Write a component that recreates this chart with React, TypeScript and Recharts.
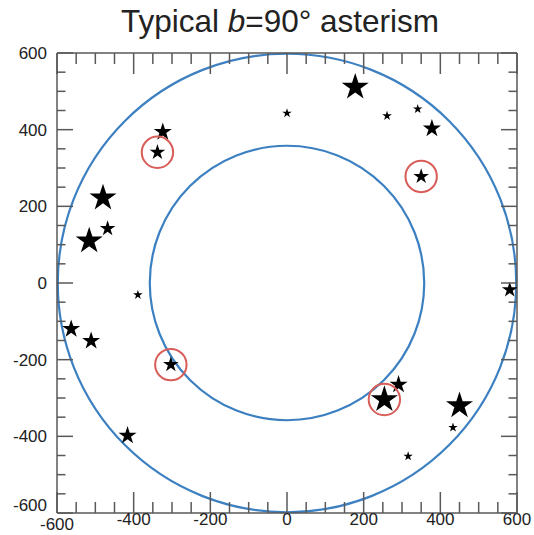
import React from 'react';
import * as R from 'recharts';

const { ScatterChart, Scatter, XAxis, YAxis } = R as any;

// ---------- data ----------
const brightStars = [
  { x: 178, y: 511 },
  { x: 254, y: -304 },
  { x: 450, y: -320 },
  { x: -480, y: 222 },
  { x: -516, y: 110 },
];
const mediumStars = [
  { x: 378, y: 403 },
  { x: 291, y: -265 },
  { x: -324, y: 394 },
  { x: -563, y: -120 },
  { x: -511, y: -151 },
  { x: -416, y: -398 },
];
const dimStars = [
  { x: 350, y: 278 },
  { x: -338, y: 341 },
  { x: -468, y: 142 },
  { x: -303, y: -213 },
  { x: 581, y: -18 },
];
const faintStars = [
  { x: 0, y: 443 },
  { x: 261, y: 436 },
  { x: 341, y: 454 },
  { x: 433, y: -377 },
  { x: 316, y: -452 },
  { x: -389, y: -31 },
];
const circledStars = [
  { x: 350, y: 278 },
  { x: 254, y: -304 },
  { x: -338, y: 341 },
  { x: -303, y: -213 },
];
const ringCenter = { x: 0, y: 0 };
const ringRadii = [598, 358];
const axisDomain = [-600, 600];
const axisTicks = [
  -600, -550, -500, -450, -400, -350, -300, -250, -200, -150, -100, -50, 0,
  50, 100, 150, 200, 250, 300, 350, 400, 450, 500, 550, 600,
];
const labelTicks = [-600, -400, -200, 0, 200, 400, 600];

// ---------- layout / style ----------
const W = 534;
const H = 535;
const MARGIN = { top: 52, right: 16, bottom: 0, left: 8 };
const AXIS_COLOR = '#595959';
const LABEL_COLOR = '#222';
const RING_COLOR = '#3d80c1';
const MARK_COLOR = '#d85c57';
const FONT = '"Liberation Sans", Arial, Helvetica, sans-serif';
const TICK_FS = 17;

const isLabel = (v: number) => labelTicks.includes(v);

const starPath = (cx: number, cy: number, r: number) => {
  const inner = r * 0.382;
  const pts: string[] = [];
  for (let i = 0; i < 10; i++) {
    const rad = i % 2 === 0 ? r : inner;
    const a = -Math.PI / 2 + (i * Math.PI) / 5;
    pts.push(`${(cx + rad * Math.cos(a)).toFixed(2)},${(cy + rad * Math.sin(a)).toFixed(2)}`);
  }
  return `M${pts.join('L')}Z`;
};

const makeStar = (r: number) => (p: any) => (
  <path d={starPath(p.cx, p.cy, r)} fill="#000" stroke="none" />
);

const markCircle = (p: any) => (
  <circle cx={p.cx} cy={p.cy} r={15.7} fill="none" stroke={MARK_COLOR} strokeWidth={2} />
);

const BottomTick = (p: any) => {
  const v = p.payload.value;
  const major = isLabel(v);
  return (
    <g>
      <line x1={p.x} x2={p.x} y1={p.y} y2={p.y - (major ? 21 : 11)} stroke={AXIS_COLOR} strokeWidth={1.5} />
      {major && (
        <text x={p.x} y={p.y + (v === -600 ? 17 : 12)} textAnchor="middle" fontSize={TICK_FS} fill={LABEL_COLOR} fontFamily={FONT}>
          {v}
        </text>
      )}
    </g>
  );
};

const TopTick = (p: any) => {
  const v = p.payload.value;
  const major = isLabel(v);
  return <line x1={p.x} x2={p.x} y1={p.y} y2={p.y + (major ? 21 : 11)} stroke={AXIS_COLOR} strokeWidth={1.5} />;
};

const LeftTick = (p: any) => {
  const v = p.payload.value;
  const major = isLabel(v);
  return (
    <g>
      <line x1={p.x} x2={p.x + (major ? 16 : 8.5)} y1={p.y} y2={p.y} stroke={AXIS_COLOR} strokeWidth={1.5} />
      {major && (
        <text x={p.x - 10} y={p.y + (v === -600 ? -2 : 6)} textAnchor="end" fontSize={TICK_FS} fill={LABEL_COLOR} fontFamily={FONT}>
          {v}
        </text>
      )}
    </g>
  );
};

const RightTick = (p: any) => {
  const v = p.payload.value;
  const major = isLabel(v);
  return <line x1={p.x} x2={p.x - (major ? 16 : 8.5)} y1={p.y} y2={p.y} stroke={AXIS_COLOR} strokeWidth={1.5} />;
};

const usePlotAreaHook: any = (R as any).usePlotArea;

const fallbackArea = {
  x: MARGIN.left + 49,
  y: MARGIN.top + 1,
  width: W - MARGIN.left - 49 - MARGIN.right - 1,
  height: H - MARGIN.top - 1 - 22 - MARGIN.bottom,
};

const Rings = () => {
  const plot = usePlotAreaHook ? usePlotAreaHook() : undefined;
  const area = plot ?? fallbackArea;
  const span = axisDomain[1] - axisDomain[0];
  const sx = area.width / span;
  const sy = area.height / span;
  const cx = area.x + (ringCenter.x - axisDomain[0]) * sx;
  const cy = area.y + (axisDomain[1] - ringCenter.y) * sy;
  return (
    <g>
      {ringRadii.map((r) => (
        <ellipse key={r} cx={cx} cy={cy} rx={r * sx} ry={r * sy} fill="none" stroke={RING_COLOR} strokeWidth={2.2} />
      ))}
    </g>
  );
};

const Title = () => (
  <text x={280} y={32} textAnchor="middle" fontSize={31.5} fill={LABEL_COLOR} fontFamily={FONT}>
    Typical <tspan fontStyle="italic">b</tspan>=90° asterism
  </text>
);

export default function App() {
  return (
    <>
      <style>{'html,body{margin:0;padding:0;overflow:hidden;}'}</style>
      <ScatterChart width={W} height={H} margin={MARGIN}>
        <XAxis
          type="number"
          dataKey="x"
          xAxisId="b"
          domain={axisDomain}
          ticks={axisTicks}
          interval={0}
          allowDataOverflow
          height={22}
          tickSize={0}
          tickMargin={0}
          tickLine={false}
          axisLine={{ stroke: AXIS_COLOR, strokeWidth: 1.5 }}
          tick={<BottomTick />}
        />
        <XAxis
          type="number"
          dataKey="x"
          xAxisId="t"
          orientation="top"
          domain={axisDomain}
          ticks={axisTicks}
          interval={0}
          allowDataOverflow
          height={1}
          tickSize={0}
          tickMargin={0}
          tickLine={false}
          axisLine={{ stroke: AXIS_COLOR, strokeWidth: 1.5 }}
          tick={<TopTick />}
        />
        <YAxis
          type="number"
          dataKey="y"
          yAxisId="l"
          domain={axisDomain}
          ticks={axisTicks}
          interval={0}
          allowDataOverflow
          width={49}
          tickSize={0}
          tickMargin={0}
          tickLine={false}
          axisLine={{ stroke: AXIS_COLOR, strokeWidth: 1.5 }}
          tick={<LeftTick />}
        />
        <YAxis
          type="number"
          dataKey="y"
          yAxisId="r"
          orientation="right"
          domain={axisDomain}
          ticks={axisTicks}
          interval={0}
          allowDataOverflow
          width={1}
          tickSize={0}
          tickMargin={0}
          tickLine={false}
          axisLine={{ stroke: AXIS_COLOR, strokeWidth: 1.5 }}
          tick={<RightTick />}
        />
        <Title />
        <Rings />
        <Scatter data={brightStars} xAxisId="b" yAxisId="l" shape={makeStar(14.2)} isAnimationActive={false} />
        <Scatter data={mediumStars} xAxisId="b" yAxisId="l" shape={makeStar(9.5)} isAnimationActive={false} />
        <Scatter data={dimStars} xAxisId="b" yAxisId="l" shape={makeStar(8.2)} isAnimationActive={false} />
        <Scatter data={faintStars} xAxisId="b" yAxisId="l" shape={makeStar(5)} isAnimationActive={false} />
        <Scatter data={circledStars} xAxisId="t" yAxisId="r" shape={markCircle} isAnimationActive={false} />
      </ScatterChart>
    </>
  );
}
